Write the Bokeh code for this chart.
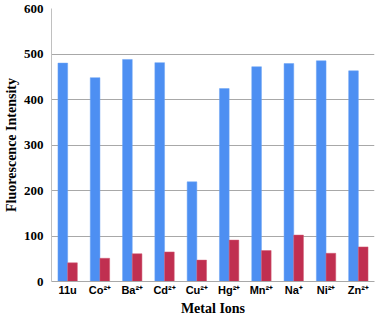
from bokeh.plotting import figure
from bokeh.models import ColumnDataSource, FactorRange, FixedTicker
from bokeh.transform import dodge
from bokeh.embed import file_html
from bokeh.resources import INLINE

categories = ["11u", "Co²⁺", "Ba²⁺", "Cd²⁺", "Cu²⁺", "Hg²⁺", "Mn²⁺", "Na⁺", "Ni²⁺", "Zn²⁺"]
blue_values = [480, 448, 488, 481, 219, 424, 472, 479, 485, 463]
red_values = [41, 51, 61, 65, 47, 91, 68, 102, 62, 76]
y_ticks = [0, 100, 200, 300, 400, 500, 600]

src = ColumnDataSource(dict(cat=categories, blue=blue_values, red=red_values))

p = figure(width=376, height=318, x_range=FactorRange(*categories), y_range=(0, 600),
           output_backend="svg", toolbar_location=None,
           min_border_left=40, min_border_right=2, min_border_top=8, min_border_bottom=20)

p.vbar(x=dodge("cat", -0.15, range=p.x_range), top="blue", width=0.3, source=src,
       fill_color="#4d8ff2", line_color="#6aa3f5", line_width=0.5)
p.vbar(x=dodge("cat", 0.15, range=p.x_range), top="red", width=0.3, source=src,
       fill_color="#c02f50", line_color="#d05a72", line_width=0.5)

p.outline_line_color = None
p.xgrid.grid_line_color = None
p.ygrid.grid_line_color = "#a8a8a8"
p.ygrid.grid_line_width = 1

p.yaxis.ticker = FixedTicker(ticks=y_ticks)
p.yaxis.major_tick_line_color = None
p.yaxis.minor_tick_line_color = None
p.yaxis.major_tick_out = 0
p.yaxis.minor_tick_out = 0
p.yaxis.axis_line_color = "#c0c0c0"
p.yaxis.major_label_text_font = "Liberation Serif"
p.yaxis.major_label_text_font_style = "bold"
p.yaxis.major_label_text_font_size = "13px"
p.yaxis.major_label_text_color = "#000000"
p.yaxis.major_label_standoff = 8
p.yaxis.axis_label = "Fluorescence Intensity"
p.yaxis.axis_label_text_font = "Liberation Serif"
p.yaxis.axis_label_text_font_style = "bold"
p.yaxis.axis_label_text_font_size = "14px"
p.yaxis.axis_label_text_color = "#000000"
p.yaxis.axis_label_standoff = 2

p.xaxis.major_tick_line_color = None
p.xaxis.minor_tick_line_color = None
p.xaxis.major_tick_out = 0
p.xaxis.minor_tick_out = 0
p.xaxis.axis_line_color = "#a8a8a8"
p.xaxis.major_label_text_font = "Liberation Sans"
p.xaxis.major_label_text_font_style = "bold"
p.xaxis.major_label_text_font_size = "11px"
p.xaxis.major_label_text_color = "#000000"
p.xaxis.major_label_standoff = 2
p.xaxis.axis_label = "Metal Ions"
p.xaxis.axis_label_text_font = "Liberation Serif"
p.xaxis.axis_label_text_font_style = "bold"
p.xaxis.axis_label_text_font_size = "14px"
p.xaxis.axis_label_text_color = "#000000"
p.xaxis.axis_label_standoff = 2

open("out.html", "w").write(file_html(p, INLINE))
